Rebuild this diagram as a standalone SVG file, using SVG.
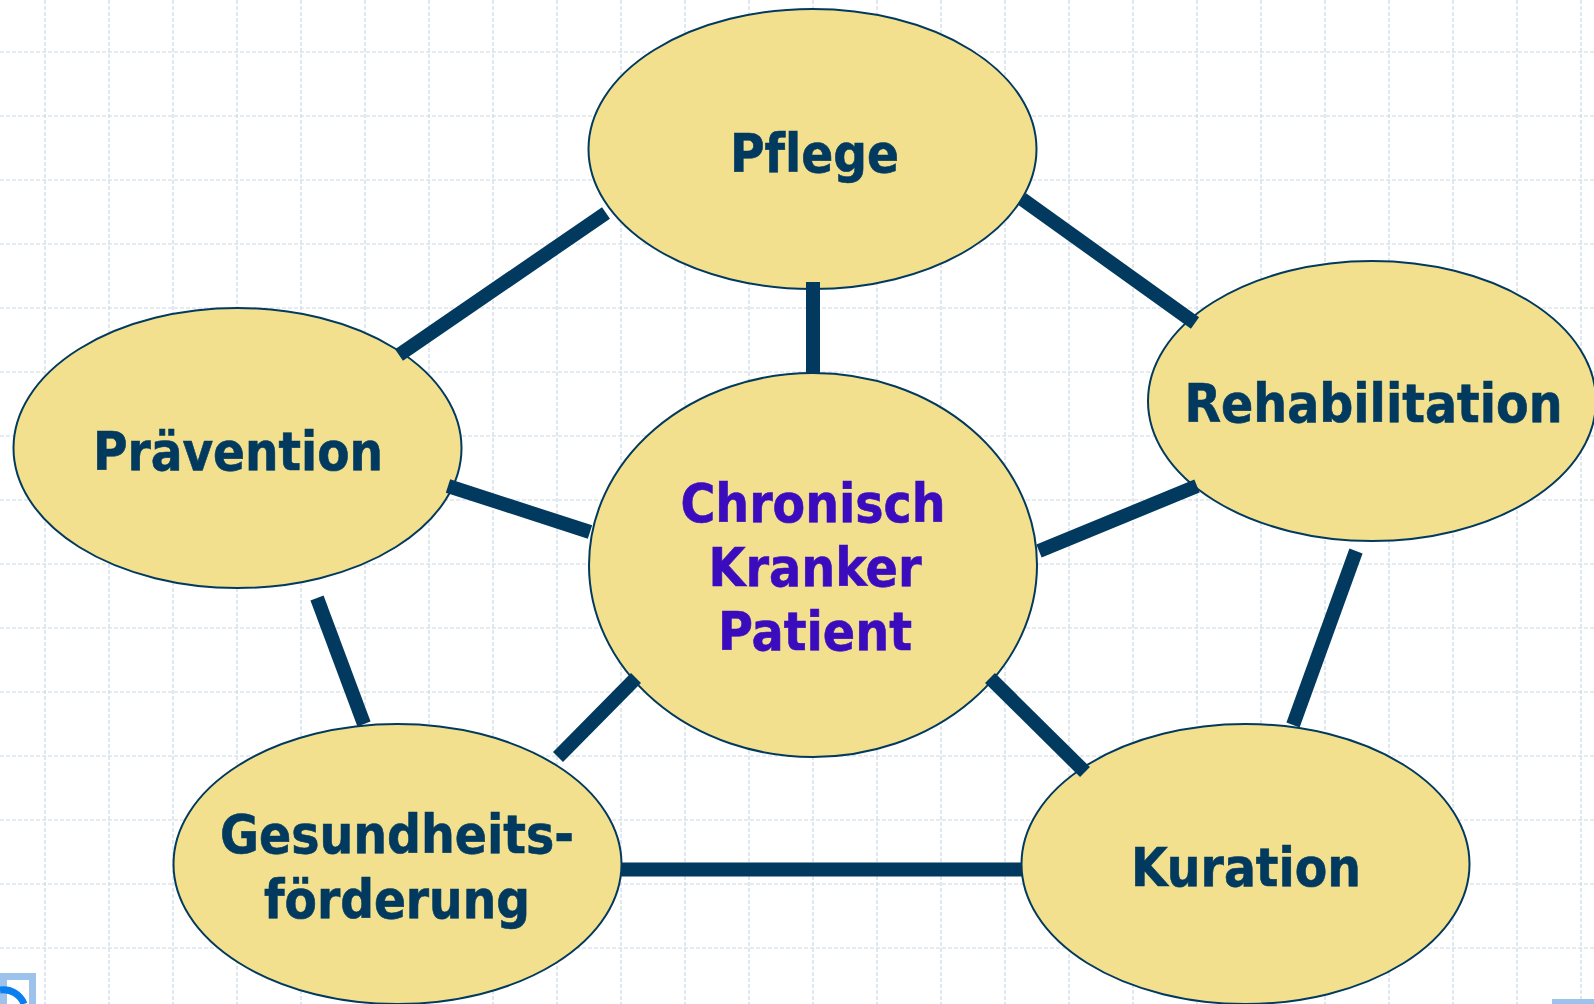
<svg xmlns="http://www.w3.org/2000/svg" width="1594" height="1004" viewBox="0 0 1594 1004">
<defs>
<style>
.grid line{stroke:#cbd9e4;stroke-width:1.2;stroke-dasharray:4 2;}
.node ellipse{fill:#f2e08f;stroke:#013a5e;stroke-width:2;}
.lbl{font-family:"DejaVu Sans Condensed","DejaVu Sans",Verdana,sans-serif;font-stretch:condensed;font-weight:bold;font-size:54px;fill:#013a5e;stroke:#013a5e;stroke-width:0.6;text-anchor:middle;font-variant-ligatures:none;}
.ctr{fill:#3a0cbe;stroke:#3a0cbe;}
.conn line{stroke:#013a5e;stroke-width:14;stroke-linecap:butt;}
</style>
</defs>
<rect x="0" y="0" width="1594" height="1004" fill="#ffffff"/>
<g class="grid">
<line x1="45" y1="0" x2="45" y2="1004"/><line x1="109" y1="0" x2="109" y2="1004"/><line x1="173" y1="0" x2="173" y2="1004"/><line x1="237" y1="0" x2="237" y2="1004"/><line x1="301" y1="0" x2="301" y2="1004"/><line x1="365" y1="0" x2="365" y2="1004"/><line x1="429" y1="0" x2="429" y2="1004"/><line x1="493" y1="0" x2="493" y2="1004"/><line x1="557" y1="0" x2="557" y2="1004"/><line x1="621" y1="0" x2="621" y2="1004"/><line x1="685" y1="0" x2="685" y2="1004"/><line x1="749" y1="0" x2="749" y2="1004"/><line x1="813" y1="0" x2="813" y2="1004"/><line x1="877" y1="0" x2="877" y2="1004"/><line x1="941" y1="0" x2="941" y2="1004"/><line x1="1005" y1="0" x2="1005" y2="1004"/><line x1="1069" y1="0" x2="1069" y2="1004"/><line x1="1133" y1="0" x2="1133" y2="1004"/><line x1="1197" y1="0" x2="1197" y2="1004"/><line x1="1261" y1="0" x2="1261" y2="1004"/><line x1="1325" y1="0" x2="1325" y2="1004"/><line x1="1389" y1="0" x2="1389" y2="1004"/><line x1="1453" y1="0" x2="1453" y2="1004"/><line x1="1517" y1="0" x2="1517" y2="1004"/><line x1="1581" y1="0" x2="1581" y2="1004"/>
<line x1="0" y1="52" x2="1594" y2="52"/><line x1="0" y1="116" x2="1594" y2="116"/><line x1="0" y1="180" x2="1594" y2="180"/><line x1="0" y1="244" x2="1594" y2="244"/><line x1="0" y1="308" x2="1594" y2="308"/><line x1="0" y1="372" x2="1594" y2="372"/><line x1="0" y1="436" x2="1594" y2="436"/><line x1="0" y1="500" x2="1594" y2="500"/><line x1="0" y1="564" x2="1594" y2="564"/><line x1="0" y1="628" x2="1594" y2="628"/><line x1="0" y1="692" x2="1594" y2="692"/><line x1="0" y1="756" x2="1594" y2="756"/><line x1="0" y1="820" x2="1594" y2="820"/><line x1="0" y1="884" x2="1594" y2="884"/><line x1="0" y1="948" x2="1594" y2="948"/>
</g>
<g id="node-pflege" class="node">
<ellipse cx="812.5" cy="149" rx="224" ry="140"/>
<text class="lbl" x="814.5" y="172" textLength="169" lengthAdjust="spacingAndGlyphs">Pflege</text>
</g>
<g id="node-rehabilitation" class="node">
<ellipse cx="1372" cy="401" rx="224" ry="140"/>
<text class="lbl" x="1373.5" y="422" textLength="378" lengthAdjust="spacingAndGlyphs">Rehabilitation</text>
</g>
<g id="node-praevention" class="node">
<ellipse cx="237.5" cy="448" rx="224" ry="140"/>
<text class="lbl" x="238" y="470" textLength="290" lengthAdjust="spacingAndGlyphs">Prävention</text>
</g>
<g id="node-gesundheitsfoerderung" class="node">
<ellipse cx="397.5" cy="864" rx="224" ry="140"/>
<text class="lbl" x="397" y="853" textLength="354" lengthAdjust="spacingAndGlyphs">Gesundheits-</text>
<text class="lbl" x="397" y="918" textLength="266" lengthAdjust="spacingAndGlyphs">förderung</text>
</g>
<g id="node-kuration" class="node">
<ellipse cx="1245.5" cy="864" rx="224" ry="140"/>
<text class="lbl" x="1246" y="886" textLength="230" lengthAdjust="spacingAndGlyphs">Kuration</text>
</g>
<g id="node-patient" class="node">
<ellipse cx="813" cy="565" rx="224" ry="192"/>
<text class="lbl ctr" x="813" y="522" textLength="265" lengthAdjust="spacingAndGlyphs">Chronisch</text>
<text class="lbl ctr" x="815" y="586" textLength="213" lengthAdjust="spacingAndGlyphs">Kranker</text>
<text class="lbl ctr" x="815" y="650" textLength="194" lengthAdjust="spacingAndGlyphs">Patient</text>
</g>
<g id="connectors" class="conn">
<line x1="813" y1="282" x2="813" y2="373"/>
<line x1="606" y1="213" x2="399" y2="355"/>
<line x1="1022" y1="199" x2="1195" y2="323"/>
<line x1="448" y1="486" x2="590" y2="532"/>
<line x1="1039" y1="551" x2="1197" y2="486"/>
<line x1="317" y1="598" x2="364" y2="724"/>
<line x1="636" y1="678" x2="558" y2="757"/>
<line x1="990" y1="678" x2="1085" y2="772"/>
<line x1="1356" y1="551" x2="1293" y2="725"/>
<line x1="621" y1="869.5" x2="1022" y2="869.5"/>
</g>
<g id="corner-icons">
<rect x="3.5" y="976.5" width="29" height="32" fill="#ffffff" stroke="#9dc3ec" stroke-width="7"/>
<path d="M0 990 A22 22 0 0 1 24 1004" fill="none" stroke="#0a7ff0" stroke-width="7"/>
<rect x="1552" y="999" width="42" height="5" fill="#9dc3ec"/>
</g>
</svg>
